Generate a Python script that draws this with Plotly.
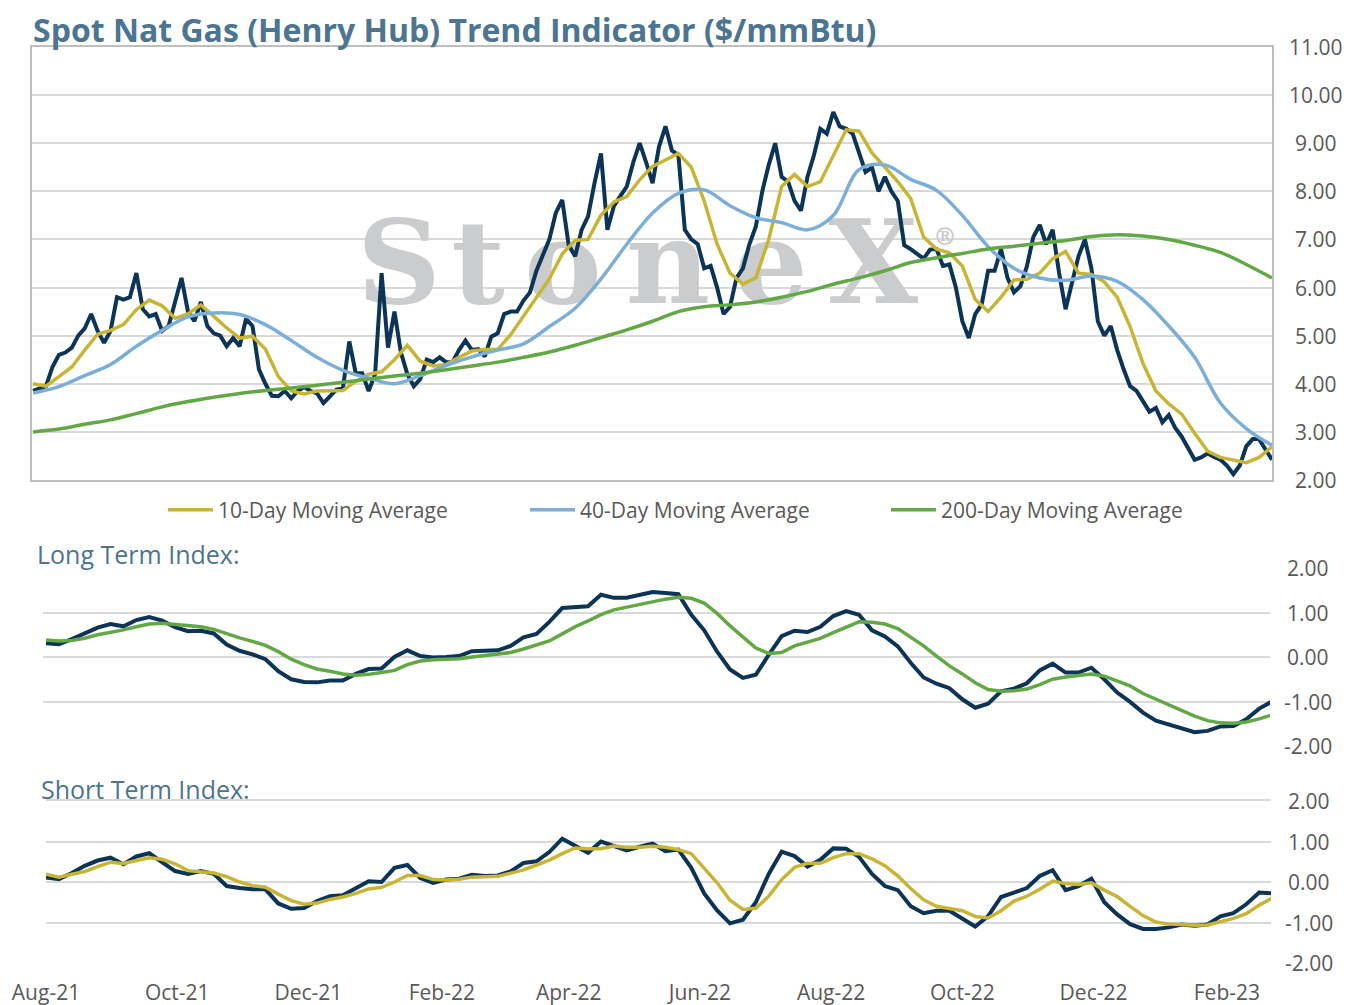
import pandas as pd
import plotly.graph_objects as go

# ---- data ----
# Henry Hub spot, one reading every 3 days from 26-Jul-21
price = [
    3.85, 3.9, 3.95, 4.35, 4.6, 4.65, 4.75, 5.0, 5.15, 5.45,
    5.1, 4.85, 5.1, 5.8, 5.75, 5.8, 6.3, 5.55, 5.4, 5.45,
    5.1, 5.2, 5.7, 6.2, 5.5, 5.3, 5.7, 5.2, 5.05, 5.0,
    4.78, 4.95, 4.78, 5.35, 5.2, 4.3, 4.0, 3.75, 3.74, 3.85,
    3.7, 3.85, 3.93, 3.85, 3.8, 3.6, 3.74, 3.88, 3.9, 4.88,
    4.22, 4.22, 3.85, 4.2, 6.3, 4.75, 5.5, 4.65, 4.2, 3.95,
    4.1, 4.5, 4.45, 4.55, 4.45, 4.45, 4.7, 4.9, 4.7, 4.72,
    4.57, 4.98, 5.05, 5.45, 5.5, 5.5, 5.73, 5.9, 6.35, 6.65,
    7.0, 7.55, 7.82, 6.88, 6.65, 7.2, 7.48, 8.17, 8.79, 7.2,
    7.69, 7.9, 8.1, 8.6, 9.0, 8.6, 8.17, 8.93, 9.35, 8.85,
    8.75, 7.2, 7.0, 6.9, 6.4, 6.45, 6.0, 5.45, 5.6, 6.2,
    6.4, 6.9, 7.27, 8.0, 8.55, 9.0, 8.3, 8.2, 7.8, 7.6,
    8.3, 8.75, 9.3, 9.2, 9.65, 9.35, 9.3, 9.2, 8.8, 8.4,
    8.5, 8.0, 8.3, 8.0, 7.8, 6.88, 6.8, 6.7, 6.6, 6.79,
    6.8, 6.45, 6.48, 6.0, 5.3, 4.95, 5.45, 5.65, 6.35, 6.35,
    6.8, 6.2, 5.9, 6.03, 6.44, 7.05, 7.3, 6.9, 7.2, 6.3,
    5.55, 6.1, 6.65, 7.0, 6.4, 5.3, 5.0, 5.2, 4.7, 4.3,
    3.95, 3.85, 3.65, 3.42, 3.5, 3.2, 3.35, 3.08, 2.9, 2.65,
    2.42, 2.47, 2.55, 2.48, 2.42, 2.3, 2.12, 2.3, 2.7, 2.85,
    2.85, 2.63, 2.42,
]

# 10-day moving average, every 6 days from 26-Jul-21
ma10 = [
    4.0, 3.95, 4.15, 4.35, 4.7, 5.03, 5.11, 5.23, 5.54, 5.74,
    5.62, 5.36, 5.45, 5.64, 5.4, 5.16, 4.95, 4.99, 4.72, 4.15,
    3.85, 3.79, 3.85, 3.85, 3.86, 4.05, 4.2, 4.25, 4.5, 4.8,
    4.47, 4.37, 4.4, 4.55, 4.68, 4.71, 4.71, 5.02, 5.4, 5.8,
    6.18, 6.7, 6.98, 7.0, 7.5, 7.78, 7.89, 8.24, 8.52, 8.65,
    8.79, 8.5, 7.8, 6.9, 6.3, 6.07, 6.2, 7.0, 8.1, 8.35,
    8.1, 8.2, 8.75, 9.28, 9.25, 8.8, 8.5, 8.2, 7.85, 7.05,
    6.8, 6.72, 6.45, 5.75, 5.5, 5.8, 6.16, 6.17, 6.3, 6.6,
    6.75, 6.3, 6.27, 6.12, 5.8, 5.19, 4.42, 3.85, 3.58, 3.37,
    2.97, 2.6, 2.47, 2.42, 2.36, 2.47, 2.69,
]

# 40-day and 200-day moving averages, every 12 days from 26-Jul-21
ma40 = [
    3.81, 3.94, 4.17, 4.4, 4.78, 5.11, 5.39, 5.47, 5.44, 5.23,
    4.9, 4.55, 4.28, 4.12, 4.0, 4.17, 4.38, 4.56, 4.7, 4.83,
    5.19, 5.57, 6.18, 6.9, 7.55, 7.96, 8.03, 7.7, 7.45, 7.35,
    7.2, 7.5, 8.45, 8.55, 8.25, 8.02, 7.5, 6.85, 6.4, 6.2,
    6.15, 6.24, 6.13, 5.75, 5.2, 4.55, 3.6, 3.07, 2.72,
]
ma200 = [
    3.0, 3.06, 3.16, 3.25, 3.38, 3.52, 3.63, 3.72, 3.8, 3.86,
    3.91, 3.97, 4.03, 4.1, 4.16, 4.22, 4.29, 4.37, 4.45, 4.55,
    4.66, 4.8, 4.96, 5.12, 5.3, 5.5, 5.6, 5.64, 5.7, 5.8,
    5.92, 6.07, 6.2, 6.35, 6.52, 6.62, 6.71, 6.8, 6.86, 6.92,
    6.98, 7.06, 7.1, 7.07, 7.0, 6.88, 6.73, 6.48, 6.2,
]

# trend indices, every 6 days from 01-Aug-21
long_index = [
    0.31, 0.29, 0.4, 0.52, 0.66, 0.74, 0.69, 0.83, 0.9, 0.82,
    0.67, 0.58, 0.59, 0.53, 0.28, 0.14, 0.06, -0.05, -0.32, -0.5,
    -0.56, -0.57, -0.53, -0.53, -0.38, -0.27, -0.26, 0.0, 0.15, 0.02,
    -0.01, 0.0, 0.02, 0.13, 0.13, 0.15, 0.25, 0.44, 0.52, 0.79,
    1.1, 1.13, 1.14, 1.4, 1.33, 1.33, 1.39, 1.46, 1.44, 1.41,
    0.95, 0.6, 0.12, -0.28, -0.47, -0.4, 0.05, 0.47, 0.59, 0.56,
    0.68, 0.92, 1.03, 0.95, 0.6, 0.46, 0.24, -0.13, -0.46, -0.6,
    -0.7, -0.95, -1.14, -1.05, -0.77, -0.71, -0.59, -0.3, -0.15, -0.35,
    -0.35, -0.24, -0.5, -0.8, -1.01, -1.25, -1.43, -1.52, -1.6, -1.69,
    -1.66, -1.56, -1.55, -1.4, -1.16, -1.0,
]
long_signal = [
    0.38, 0.36, 0.37, 0.42, 0.5, 0.55, 0.61, 0.68, 0.74, 0.76,
    0.73, 0.7, 0.68, 0.62, 0.52, 0.43, 0.35, 0.26, 0.12, -0.05,
    -0.17, -0.27, -0.32, -0.38, -0.41, -0.39, -0.35, -0.3, -0.17, -0.09,
    -0.06, -0.05, -0.04, 0.0, 0.03, 0.06, 0.1, 0.18, 0.27, 0.36,
    0.52, 0.68, 0.81, 0.95, 1.06, 1.12, 1.2, 1.26, 1.3, 1.34,
    1.32, 1.21, 0.98, 0.7, 0.45, 0.2, 0.08, 0.1, 0.25, 0.33,
    0.42, 0.55, 0.67, 0.79, 0.78, 0.74, 0.64, 0.45, 0.25, 0.02,
    -0.2, -0.38, -0.58, -0.73, -0.77, -0.76, -0.72, -0.62, -0.5, -0.45,
    -0.41, -0.38, -0.43, -0.54, -0.65, -0.82, -0.95, -1.08, -1.21, -1.33,
    -1.43, -1.48, -1.49, -1.46, -1.39, -1.3,
]
short_index = [
    0.11, 0.07, 0.22, 0.4, 0.53, 0.6, 0.44, 0.63, 0.71, 0.5,
    0.27, 0.2, 0.27, 0.2, -0.1, -0.15, -0.18, -0.18, -0.53, -0.66,
    -0.64, -0.47, -0.35, -0.33, -0.15, 0.02, 0.0, 0.35, 0.42, 0.1,
    -0.02, 0.06, 0.08, 0.18, 0.15, 0.16, 0.26, 0.47, 0.51, 0.74,
    1.07, 0.9, 0.72, 1.0, 0.9, 0.78, 0.87, 0.95, 0.76, 0.8,
    0.35, -0.28, -0.7, -1.02, -0.93, -0.5, 0.2, 0.75, 0.64, 0.38,
    0.55, 0.83, 0.82, 0.62, 0.2, -0.1, -0.2, -0.6, -0.77, -0.71,
    -0.71, -0.9, -1.1, -0.84, -0.37, -0.26, -0.15, 0.15, 0.29, -0.2,
    -0.1, 0.08, -0.5, -0.8, -1.04, -1.16, -1.16, -1.12, -1.05, -1.08,
    -1.05, -0.85, -0.77, -0.55, -0.26, -0.28,
]
short_signal = [
    0.19, 0.12, 0.19, 0.26, 0.38, 0.49, 0.46, 0.52, 0.6, 0.56,
    0.45, 0.28, 0.26, 0.22, 0.13, 0.0, -0.09, -0.13, -0.3, -0.46,
    -0.55, -0.52, -0.43, -0.37, -0.28, -0.17, -0.13, 0.0, 0.16, 0.16,
    0.06, 0.05, 0.07, 0.12, 0.13, 0.14, 0.22, 0.3, 0.42, 0.54,
    0.7, 0.84, 0.82, 0.82, 0.89, 0.86, 0.86, 0.88, 0.86, 0.8,
    0.7, 0.35, -0.02, -0.45, -0.68, -0.65, -0.35, 0.06, 0.36, 0.46,
    0.46, 0.6, 0.7, 0.7, 0.57, 0.4, 0.15, -0.16, -0.44, -0.6,
    -0.66, -0.71, -0.85, -0.89, -0.71, -0.47, -0.35, -0.18, 0.02, -0.04,
    -0.06, -0.02, -0.2, -0.36, -0.6, -0.83, -0.99, -1.04, -1.05, -1.07,
    -1.06, -0.97, -0.9, -0.78, -0.57, -0.4,
]

price_dates = pd.date_range("2021-07-26", periods=len(price), freq="3D")
ma10_dates = pd.date_range("2021-07-26", periods=len(ma10), freq="6D")
ma_slow_dates = pd.date_range("2021-07-26", periods=len(ma40), freq="12D")
index_dates = pd.date_range("2021-08-01", periods=len(long_index), freq="6D")

month_ticks = pd.date_range("2021-08-01", "2023-02-01", freq="2MS")
month_labels = ["Aug-21", "Oct-21", "Dec-21", "Feb-22", "Apr-22",
                "Jun-22", "Aug-22", "Oct-22", "Dec-22", "Feb-23"]
price_ticks = [2, 3, 4, 5, 6, 7, 8, 9, 10, 11]
index_ticks = [2, 1, 0, -1, -2]

# ---- layout helpers ----
# the page puts an 8px body margin round the plot, so the figure is 8px
# smaller and every reference pixel position is shifted by that margin
PAGE = 8
W, H = 1357 - PAGE, 1005 - PAGE
NAVY, GOLD, BLUE, GREEN = "#0c3456", "#c9b535", "#7bafd8", "#62a845"
GRID, BOX, TXT, HEAD = "#d9d9d9", "#bfbfbf", "#595959", "#4b7590"
FONT = "Open Sans"


def fx(p):
    return (p - PAGE) / W


def fy(p):
    return 1 - (p - PAGE) / H


def px_date(p):
    # 01-Aug-21 sits at x=46px of the reference, 2.151 px per day
    return pd.Timestamp("2021-08-01") + pd.Timedelta(days=(p - 46) / 2.151)


fig = go.Figure()

# watermark, drawn first so the lines sit on top of it
wm_letters = ["S", "t", "o", "n", "e", "X", "\u00ae"]
wm_px = [399, 478, 563, 668, 771, 873, 945]
fig.add_trace(go.Scatter(
    x=[px_date(p) for p in wm_px], y=[6.29] * 6 + [7.0],
    mode="text", text=wm_letters,
    textfont=dict(family="DejaVu Serif", size=[116] * 6 + [24], color="#cbccce",
                  weight="bold"),
    hoverinfo="skip", showlegend=False, xaxis="x", yaxis="y"))

fig.add_trace(go.Scatter(x=price_dates, y=price, mode="lines", name="Spot",
                         line=dict(color=NAVY, width=4), showlegend=False,
                         xaxis="x", yaxis="y"))
fig.add_trace(go.Scatter(x=ma10_dates, y=ma10, mode="lines", name="10-Day Moving Average",
                         line=dict(color=GOLD, width=3.5), legend="legend",
                         xaxis="x", yaxis="y"))
fig.add_trace(go.Scatter(x=ma_slow_dates, y=ma40, mode="lines", name="40-Day Moving Average",
                         line=dict(color=BLUE, width=3.5, shape="spline"), legend="legend2",
                         xaxis="x", yaxis="y"))
fig.add_trace(go.Scatter(x=ma_slow_dates, y=ma200, mode="lines", name="200-Day Moving Average",
                         line=dict(color=GREEN, width=3.5, shape="spline"), legend="legend3",
                         xaxis="x", yaxis="y"))

fig.add_trace(go.Scatter(x=index_dates, y=long_index, mode="lines", showlegend=False,
                         line=dict(color=NAVY, width=4), xaxis="x2", yaxis="y2"))
fig.add_trace(go.Scatter(x=index_dates, y=long_signal, mode="lines", showlegend=False,
                         line=dict(color=GREEN, width=3.5), xaxis="x2", yaxis="y2"))

fig.add_trace(go.Scatter(x=index_dates, y=short_index, mode="lines", showlegend=False,
                         line=dict(color=NAVY, width=4), xaxis="x3", yaxis="y3"))
fig.add_trace(go.Scatter(x=index_dates, y=short_signal, mode="lines", showlegend=False,
                         line=dict(color=GOLD, width=3.5), xaxis="x3", yaxis="y3"))
# empty trace so the tick axis along the top of the bottom panel gets drawn
fig.add_trace(go.Scatter(x=[], y=[], showlegend=False, hoverinfo="skip",
                         xaxis="x4", yaxis="y3"))

top_x = [32, 1272]
mid_x = [43, 1270]
bot_x = [46, 1271]


def legend_at(px_left):
    return dict(orientation="h", x=fx(px_left), y=fy(510), xanchor="left", yanchor="middle",
                itemwidth=45, font=dict(size=21, color=TXT, family=FONT),
                bgcolor="rgba(0,0,0,0)", borderwidth=0)


fig.update_layout(
    width=W, height=H,
    margin=dict(l=0, r=0, t=0, b=0),
    paper_bgcolor="white", plot_bgcolor="white",
    font=dict(family=FONT, color=TXT, size=20),
    xaxis=dict(domain=[fx(top_x[0]), fx(top_x[1])], range=[px_date(top_x[0]), px_date(top_x[1])],
               anchor="y", showgrid=False, showticklabels=False, ticks="", zeroline=False,
               showline=True, mirror=True, linecolor=BOX, linewidth=2, automargin=False),
    yaxis=dict(domain=[fy(480), fy(47)], range=[2, 11], anchor="x",
               tickvals=price_ticks, showticklabels=False, gridcolor=GRID, gridwidth=1.5,
               zeroline=False, showline=True, mirror=True, linecolor=BOX, linewidth=2,
               automargin=False),
    xaxis2=dict(domain=[fx(mid_x[0]), fx(mid_x[1])], range=[px_date(mid_x[0]), px_date(mid_x[1])],
                anchor="y2", showgrid=False, showticklabels=False, ticks="", zeroline=False,
                showline=False, automargin=False),
    yaxis2=dict(domain=[fy(746), fy(568)], range=[-2, 2], anchor="x2",
                tickvals=[2, 1, 0, -1], showticklabels=False, gridcolor=GRID, gridwidth=1.5,
                zeroline=False, showline=False, automargin=False),
    xaxis3=dict(domain=[fx(bot_x[0]), fx(bot_x[1])], range=[px_date(bot_x[0]), px_date(bot_x[1])],
                anchor="y3", showgrid=False, zeroline=False, showline=False, ticks="",
                tickvals=month_ticks, ticktext=month_labels, ticklabelstandoff=15,
                tickfont=dict(size=21, color=TXT, family=FONT), automargin=False),
    xaxis4=dict(domain=[fx(bot_x[0]), fx(bot_x[1])], range=[px_date(bot_x[0]), px_date(bot_x[1])],
                anchor="y3", overlaying="x3", side="top", showgrid=False, zeroline=False,
                tickvals=month_ticks, showticklabels=False, ticks="inside", ticklen=7,
                tickwidth=2, tickcolor=GRID, showline=True, linecolor=GRID, linewidth=2,
                automargin=False),
    yaxis3=dict(domain=[fy(963), fy(801)], range=[-2, 2], anchor="x3",
                tickvals=index_ticks, showticklabels=False, gridcolor=GRID, gridwidth=1.5,
                zeroline=False, showline=False, automargin=False),
    legend=legend_at(163),
    legend2=legend_at(525),
    legend3=legend_at(886),
    showlegend=True,
)

annotations = [
    # title hangs from the top of the figure so nothing is clipped
    dict(text="Spot Nat Gas (Henry Hub) Trend Indicator ($/mmBtu)", x=fx(31), y=1,
         xanchor="left", yanchor="top", yshift=2,
         font=dict(family=FONT, size=32, color=HEAD, weight="bold")),
    dict(text="Long Term Index:", x=fx(35), y=fy(554), xanchor="left", yanchor="middle",
         font=dict(family=FONT, size=25, color=HEAD)),
    dict(text="Short Term Index:", x=fx(39), y=fy(789), xanchor="left", yanchor="middle",
         font=dict(family=FONT, size=25, color=HEAD)),
]
for v in price_ticks:
    annotations.append(dict(text=f"{v:.2f}", x=fx(1316), xref="paper", y=v, yref="y",
                            xanchor="center", yanchor="middle", font=dict(size=21, color=TXT)))
for v in index_ticks:
    annotations.append(dict(text=f"{v:.2f}", x=fx(1308), xref="paper", y=v, yref="y2",
                            xanchor="center", yanchor="middle", font=dict(size=21, color=TXT)))
    annotations.append(dict(text=f"{v:.2f}", x=fx(1309), xref="paper", y=v, yref="y3",
                            xanchor="center", yanchor="middle", font=dict(size=21, color=TXT)))
for a in annotations:
    a.setdefault("xref", "paper")
    a.setdefault("yref", "paper")
    a["showarrow"] = False
fig.update_layout(annotations=annotations)

fig.write_html("out.html")
